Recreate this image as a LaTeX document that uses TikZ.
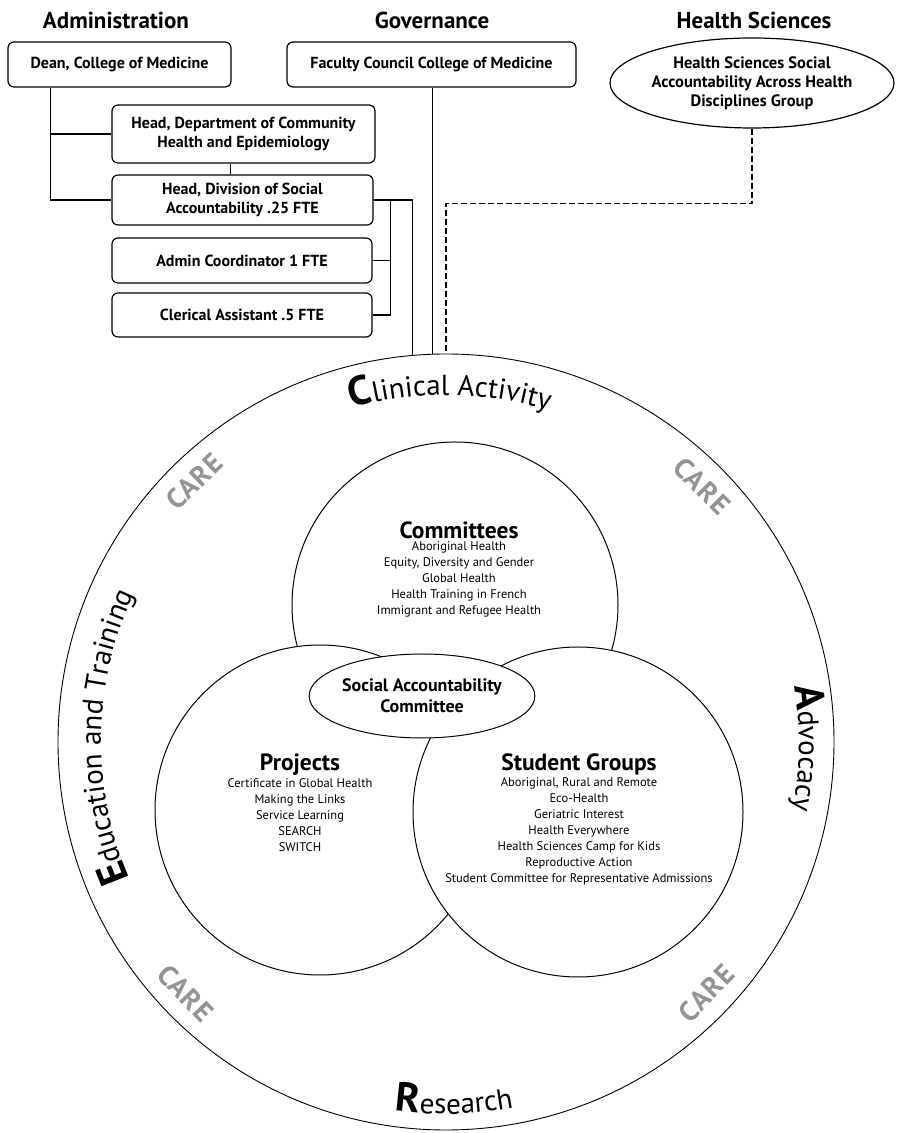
\documentclass[tikz,border=0pt]{standalone}
\usepackage{fontspec}
\setmainfont{PT Sans}
\usetikzlibrary{shapes.geometric,decorations.text,calc}

\newcommand\ringfont{\fontsize{29}{29}\selectfont\mdseries}
\newcommand\initfont{\fontsize{41}{41}\selectfont\bfseries}

\tikzset{
  orgbox/.style={draw, line width=1.2pt, rounded corners=6pt, fill=white, inner sep=0pt,
    align=center, font=\fontsize{16}{19}\selectfont\bfseries},
  heading/.style={font=\fontsize{23}{24}\selectfont\bfseries},
  ring/.style={circle, draw, line width=1pt, fill=white, inner sep=0pt},
  care/.style={text=black!42, font=\fontsize{28}{28}\selectfont\bfseries\addfontfeature{LetterSpace=4}},
  ringtitle/.style={font=\fontsize{23.5}{24}\selectfont\bfseries, inner sep=0pt},
  items/.style={align=center, font=\fontsize{12.5}{16}\selectfont, inner sep=0pt},
  link/.style={line width=1.2pt},
}

\begin{document}
\begin{tikzpicture}[x=1pt,y=1pt]
\useasboundingbox (0,0) rectangle (897,1133);

% column headings
\node[heading] (hadmin) at (116,1113) {Administration};
\node[heading] (hgov) at (432,1113) {Governance};
\node[heading] (hhs) at (754,1113) {Health Sciences};

% org chart
\node[orgbox, minimum width=223pt, minimum height=45pt] (dean) at (119.5,1068.5) {Dean, College of Medicine};
\node[orgbox, minimum width=289pt, minimum height=45pt] (fac) at (431.5,1068.5) {Faculty Council College of Medicine};
\node[ellipse, draw, line width=1.2pt, fill=white, inner sep=0pt, minimum width=284pt, minimum height=90pt,
  align=center, font=\fontsize{16.5}{19}\selectfont\bfseries] (hs) at (752,1050)
  {Health Sciences Social\\Accountability Across Health\\Disciplines Group};
\node[orgbox, minimum width=263pt, minimum height=58pt] (hdept) at (243.5,999) {Head, Department of Community\\Health and Epidemiology};
\node[orgbox, minimum width=261pt, minimum height=50pt] (hdiv) at (242.5,933) {Head, Division of Social\\Accountability .25 FTE};
\node[orgbox, minimum width=260pt, minimum height=45pt] (admin) at (242,872.5) {Admin Coordinator 1 FTE};
\node[orgbox, minimum width=260pt, minimum height=44pt] (clerk) at (242,818) {Clerical Assistant .5 FTE};

% the rings
\node[circle, draw, line width=0.9pt, fill=white, inner sep=0pt, minimum size=776pt] (big) at (446,391) {};
\node[ring, minimum size=326pt] (comm) at (455,528) {};
\node[ring, minimum size=330pt] (proj) at (320,323) {};
\node[ring, minimum size=330pt] (stud) at (578,321) {};
\node[ellipse, draw, line width=1pt, fill=white, inner sep=0pt, minimum width=216pt, minimum height=84pt,
  align=center, font=\fontsize{18}{21}\selectfont\bfseries] (sac) at (422,437) {Social Accountability\\Committee};

\node[ringtitle] (commt) at (459,603) {Committees};
\node[items] (commi) at (459,553.5) {Aboriginal Health\\Equity, Diversity and Gender\\Global Health\\Health Training in French\\Immigrant and Refugee Health};
\node[ringtitle] (projt) at (300,368) {Projects};
\node[items] (proji) at (300,318) {Certificate in Global Health\\Making the Links\\Service Learning\\SEARCH\\SWITCH};
\node[ringtitle] (studt) at (579,369) {Student Groups};
\node[items] (studi) at (579,302) {Aboriginal, Rural and Remote\\Eco-Health\\Geriatric Interest\\Health Everywhere\\Health Sciences Camp for Kids\\Reproductive Action\\Student Committee for Representative Admissions};

% words round the ring
\path[decorate, decoration={text along path, text align=center,
  text={|\initfont|C|\ringfont|linical Activity}}]
  ([shift={(119.3:347)}]big.center) arc[start angle=119.3, end angle=59.3, radius=347];
\path[decorate, decoration={text along path, text align=center,
  text={|\initfont|R|\ringfont|esearch}}]
  ([shift={(241.3:372)}]big.center) arc[start angle=241.3, end angle=301.3, radius=372];
\path[decorate, decoration={text along path, text align=center,
  text={|\initfont|E|\ringfont|ducation and Training}}]
  ([shift={(214:345)}]big.center) arc[start angle=214, end angle=144, radius=345];
\path[decorate, decoration={text along path, text align=center,
  text={|\initfont|A|\ringfont|dvocacy}}]
  ([shift={(25:353)}]big.center) arc[start angle=25, end angle=-27, radius=353];

\node[care, rotate=44] (care1) at ([shift={(134:362)}]big.center) {CARE};
\node[care, rotate=-45] (care2) at ([shift={(45:362)}]big.center) {CARE};
\node[care, rotate=-46] (care3) at ([shift={(224:362)}]big.center) {CARE};
\node[care, rotate=46] (care4) at ([shift={(316:362)}]big.center) {CARE};

% connectors
\coordinate (trunk) at ([xshift=43pt]dean.south west);
\draw[link] (trunk) |- (hdiv.west);
\draw[link] (trunk |- hdept.west) -- (hdept.west);
\draw[link] ([xshift=-13pt]hdept.south) -- ([xshift=-13pt]hdept.south |- hdiv.north);
\coordinate (split) at ([xshift=17pt]hdiv.east);
\draw[link] (split) |- (clerk.east);
\draw[link] (admin.east) -- (admin.east -| split);
\draw[link] (hdiv.east) -| (big.95);
\draw[link] (big.92.5 |- fac.south) -- (big.92.5);
\draw[link, dash pattern=on 6pt off 3pt] (hs.south) -- ++(0,-75) -| (big.north);
\end{tikzpicture}
\end{document}
